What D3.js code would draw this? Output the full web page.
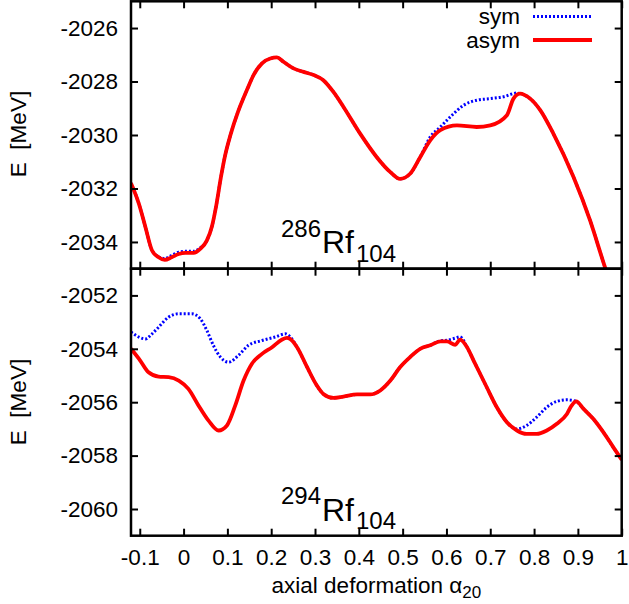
<!DOCTYPE html>
<html>
<head>
<meta charset="utf-8">
<script src="https://cdn.jsdelivr.net/npm/d3@7"></script>
<style>
html,body{margin:0;padding:0;background:#fff;}
svg{display:block;font-family:"Liberation Sans",Arial,sans-serif;}
</style>
</head>
<body>
<svg id="chart" width="629" height="604"></svg>
<script>
// ---- data ----
const xTicks = [-0.1,0,0.1,0.2,0.3,0.4,0.5,0.6,0.7,0.8,0.9,1];
const xTickLabels = ["-0.1","0","0.1","0.2","0.3","0.4","0.5","0.6","0.7","0.8","0.9","1"];
const topYTicks = [-2034,-2032,-2030,-2028,-2026];
const botYTicks = [-2060,-2058,-2056,-2054,-2052];
const seriesNames = ["sym","asym"];

const topAsymAlpha = [-0.12,-0.102,-0.087,-0.072,-0.057,-0.043,-0.027,-0.011,0.004,0.023,0.038,0.053,0.065,0.075,0.085,0.095,0.107,0.125,0.145,0.16,0.179,0.198,0.213,0.228,0.251,0.274,0.297,0.319,0.342,0.365,0.403,0.441,0.472,0.494,0.517,0.54,0.563,0.586,0.624,0.669,0.7,0.738,0.753,0.768,0.791,0.814,0.844,0.89,0.928,0.962,0.98];
const topAsymE = [-2031.8,-2032.57,-2033.45,-2034.32,-2034.57,-2034.67,-2034.57,-2034.45,-2034.41,-2034.41,-2034.26,-2033.95,-2033.4,-2032.6,-2031.6,-2030.75,-2030.0,-2029.1,-2028.3,-2027.75,-2027.32,-2027.14,-2027.1,-2027.26,-2027.51,-2027.64,-2027.76,-2027.95,-2028.39,-2028.95,-2029.95,-2030.83,-2031.39,-2031.64,-2031.45,-2030.83,-2030.2,-2029.82,-2029.64,-2029.7,-2029.64,-2029.26,-2028.64,-2028.45,-2028.64,-2029.07,-2029.95,-2031.57,-2033.2,-2034.95,-2035.8];

const topSymAlpha = [-0.12,-0.102,-0.087,-0.072,-0.057,-0.043,-0.027,-0.011,0.004,0.023,0.038,0.053,0.065,0.075,0.085,0.095,0.107,0.125,0.145,0.16,0.179,0.198,0.213,0.228,0.251,0.274,0.297,0.319,0.342,0.365,0.403,0.441,0.472,0.494,0.517,0.54,0.563,0.586,0.609,0.639,0.669,0.7,0.73,0.761,0.768,0.791,0.814,0.844,0.89,0.928,0.962,0.98];
const topSymE = [-2031.8,-2032.57,-2033.45,-2034.32,-2034.55,-2034.62,-2034.5,-2034.38,-2034.35,-2034.35,-2034.22,-2033.95,-2033.4,-2032.6,-2031.6,-2030.75,-2030.0,-2029.1,-2028.3,-2027.75,-2027.32,-2027.14,-2027.1,-2027.26,-2027.51,-2027.64,-2027.76,-2027.95,-2028.39,-2028.95,-2029.95,-2030.83,-2031.39,-2031.64,-2031.45,-2030.83,-2030.07,-2029.7,-2029.32,-2028.89,-2028.7,-2028.64,-2028.57,-2028.43,-2028.45,-2028.64,-2029.07,-2029.95,-2031.57,-2033.2,-2034.95,-2035.8];

const botAsymAlpha = [-0.12,-0.099,-0.08,-0.057,-0.034,-0.011,0.011,0.034,0.057,0.08,0.099,0.118,0.137,0.156,0.179,0.202,0.224,0.236,0.243,0.259,0.282,0.304,0.319,0.342,0.365,0.396,0.426,0.449,0.472,0.494,0.517,0.54,0.563,0.586,0.601,0.62,0.631,0.647,0.662,0.692,0.715,0.738,0.761,0.783,0.806,0.829,0.852,0.875,0.886,0.896,0.913,0.935,0.958,0.981,1.0];
const botAsymE = [-2054.0,-2054.44,-2054.88,-2055.04,-2055.06,-2055.19,-2055.5,-2056.12,-2056.69,-2057.06,-2056.87,-2056.12,-2055.19,-2054.56,-2054.19,-2053.94,-2053.66,-2053.59,-2053.63,-2053.94,-2054.69,-2055.37,-2055.69,-2055.84,-2055.79,-2055.71,-2055.71,-2055.56,-2055.19,-2054.69,-2054.31,-2054.0,-2053.87,-2053.72,-2053.72,-2053.85,-2053.66,-2053.94,-2054.44,-2055.44,-2056.19,-2056.75,-2057.06,-2057.19,-2057.19,-2057.06,-2056.81,-2056.44,-2056.12,-2055.97,-2056.25,-2056.62,-2057.12,-2057.69,-2058.15];

const botSymAlpha = [-0.12,-0.102,-0.087,-0.072,-0.057,-0.034,-0.011,0.019,0.038,0.053,0.068,0.084,0.103,0.125,0.148,0.179,0.209,0.232,0.243,0.259,0.282,0.304,0.319,0.342,0.365,0.396,0.426,0.449,0.472,0.494,0.517,0.54,0.563,0.586,0.601,0.62,0.631,0.647,0.662,0.692,0.715,0.738,0.761,0.783,0.806,0.829,0.852,0.875,0.896,0.913,0.935,0.958,0.981,1.0];
const botSymE = [-2053.37,-2053.56,-2053.63,-2053.44,-2053.19,-2052.81,-2052.69,-2052.69,-2052.87,-2053.31,-2053.87,-2054.31,-2054.5,-2054.25,-2053.87,-2053.69,-2053.56,-2053.44,-2053.55,-2053.94,-2054.69,-2055.37,-2055.69,-2055.84,-2055.79,-2055.71,-2055.71,-2055.56,-2055.19,-2054.69,-2054.31,-2054.0,-2053.87,-2053.7,-2053.68,-2053.6,-2053.55,-2053.94,-2054.44,-2055.44,-2056.19,-2056.75,-2057.0,-2056.87,-2056.56,-2056.19,-2055.97,-2055.91,-2055.97,-2056.25,-2056.62,-2057.12,-2057.69,-2058.15];

// ---- layout ----
const svg = d3.select("#chart");
const X0 = 131, X1 = 621.7;
const x = d3.scaleLinear().domain([-0.12,1.0]).range([X0,X1]);
const panels = [
  {y: d3.scaleLinear().domain([-2035,-2025]).range([268.7,1.3]), ticks: topYTicks,
   sym: [topSymAlpha, topSymE], asym: [topAsymAlpha, topAsymE], mass:"286", xlabels:false, id:"top", yLabelC:134},
  {y: d3.scaleLinear().domain([-2061,-2051]).range([535.7,268.7]), ticks: botYTicks,
   sym: [botSymAlpha, botSymE], asym: [botAsymAlpha, botAsymE], mass:"294", xlabels:true, id:"bot", yLabelC:402}
];
const FS = 22.5;
const tickLen = 7;

panels.forEach((p,i) => {
  const [yb, yt] = p.y.range();
  const g = svg.append("g");
  svg.append("clipPath").attr("id","clip"+p.id).append("rect")
    .attr("x",X0).attr("y",yt).attr("width",X1-X0).attr("height",yb-yt);

  const mk = (arr) => arr[0].map((a,k)=>[a,arr[1][k]]);
  const line = d3.line().x(d=>x(d[0])).y(d=>p.y(d[1])).curve(d3.curveMonotoneX);
  const lg = g.append("g").attr("clip-path","url(#clip"+p.id+")");
  lg.append("path").datum(mk(p.sym)).attr("d",line).attr("fill","none")
    .attr("stroke","#0000ff").attr("stroke-width",3).attr("stroke-dasharray","2,2");
  lg.append("path").datum(mk(p.asym)).attr("d",line).attr("fill","none")
    .attr("stroke","#ff0000").attr("stroke-width",3.8).attr("stroke-linejoin","round");

  const left = d3.axisLeft(p.y).tickValues(p.ticks).tickSize(-tickLen).tickPadding(13).tickFormat(d=>String(d));
  const right = d3.axisRight(p.y).tickValues(p.ticks).tickSize(-tickLen).tickFormat("");
  const bottom = d3.axisBottom(x).tickValues(xTicks).tickSize(-tickLen).tickPadding(13)
      .tickFormat((d,k)=> p.xlabels ? xTickLabels[k] : "");
  const top = d3.axisTop(x).tickValues(xTicks).tickSize(-tickLen).tickFormat("");
  const axes = [
    g.append("g").attr("transform",`translate(${X0},0)`).call(left),
    g.append("g").attr("transform",`translate(${X1},0)`).call(right),
    g.append("g").attr("transform",`translate(0,${yb})`).call(bottom),
    g.append("g").attr("transform",`translate(0,${yt})`).call(top)
  ];
  axes.forEach(a => {
    a.select(".domain").remove();
    a.selectAll(".tick line").attr("stroke","#000").attr("stroke-width",2);
    a.selectAll("text").attr("font-size",FS).attr("font-family","Liberation Sans, Arial, sans-serif").attr("fill","#000");
  });
  g.append("rect").attr("x",X0).attr("y",yt).attr("width",X1-X0).attr("height",yb-yt)
    .attr("fill","none").attr("stroke","#000").attr("stroke-width",2.5);

  svg.append("text").attr("transform",`translate(26,${p.yLabelC}) rotate(-90)`)
    .attr("text-anchor","middle").attr("font-size",FS).attr("fill","#000")
    .attr("xml:space","preserve").text("E  [MeV]");

  const base = yt + 252;
  svg.append("text").attr("x",281).attr("y",base-16.5).attr("font-size",24).text(p.mass);
  svg.append("text").attr("x",322).attr("y",base).attr("font-size",32).text("Rf");
  svg.append("text").attr("x",356).attr("y",base+8.5).attr("font-size",24).text("104");
});

// legend
const legY = [16.5, 40];
const legStyle = [
  {stroke:"#0000ff", w:3, dash:"2,2"},
  {stroke:"#ff0000", w:3.8, dash:null}
];
seriesNames.forEach((n,k) => {
  svg.append("text").attr("x",520).attr("y",legY[k]+7.5).attr("text-anchor","end")
    .attr("font-size",FS).attr("fill","#000").text(n);
  svg.append("line").attr("x1",533).attr("x2",592).attr("y1",legY[k]).attr("y2",legY[k])
    .attr("stroke",legStyle[k].stroke).attr("stroke-width",legStyle[k].w)
    .attr("stroke-dasharray",legStyle[k].dash);
});

const xl = svg.append("text").attr("x",(X0+X1)/2).attr("y",593).attr("text-anchor","middle")
  .attr("font-size",FS).attr("fill","#000");
xl.append("tspan").text("axial deformation α");
xl.append("tspan").attr("font-size",17).attr("dy",5).text("20");
</script>
</body>
</html>
